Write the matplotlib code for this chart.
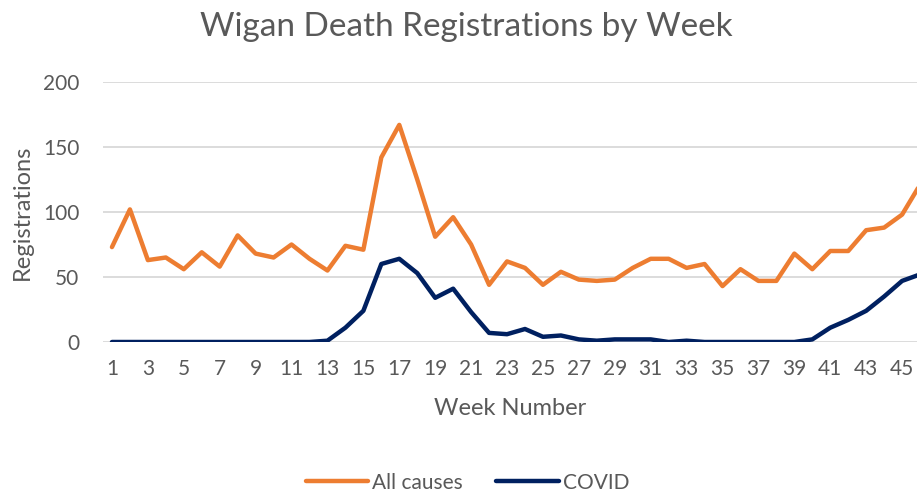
import matplotlib as mpl
mpl.use('Agg')
import matplotlib.pyplot as plt

weeks = list(range(1, 47))
all_causes = [73, 102, 63, 65, 56, 69, 58, 82, 68, 65,
              75, 64, 55, 74, 71, 142, 167, 125, 81, 96,
              75, 44, 62, 57, 44, 54, 48, 47, 48, 57,
              64, 64, 57, 60, 43, 56, 47, 47, 68, 56,
              70, 70, 86, 88, 98, 121]
covid = [0, 0, 0, 0, 0, 0, 0, 0, 0, 0,
         0, 0, 1, 11, 24, 60, 64, 53, 34, 41,
         23, 7, 6, 10, 4, 5, 2, 1, 2, 2,
         2, 0, 1, 0, 0, 0, 0, 0, 0, 2,
         11, 17, 24, 35, 47, 52]
tick_weeks = list(range(1, 46, 2))

plt.rcParams['font.family'] = ['Lato', 'DejaVu Sans']
grey = '#595959'

fig = plt.figure(figsize=(9.17, 4.94), dpi=100)
ax = fig.add_axes([0.1123, 0.3077, 0.8877, 0.5263])

ax.plot(weeks, all_causes, color='#ED7D31', lw=3.2, label='All causes',
        solid_capstyle='round', solid_joinstyle='round', zorder=3)
ax.plot(weeks, covid, color='#002060', lw=3.2, label='COVID',
        solid_capstyle='round', solid_joinstyle='round', zorder=3)

ax.set_xlim(0.5, 45.83)
ax.set_ylim(0, 200)
ax.set_yticks([0, 50, 100, 150, 200])
ax.set_xticks(tick_weeks)
ax.tick_params(length=0, labelsize=15, labelcolor=grey)
ax.tick_params(axis='x', pad=12)
ax.tick_params(axis='y', pad=17)
ax.grid(axis='y', color='#d9d9d9', lw=1.3, zorder=0)
for s in ['top', 'right', 'left', 'bottom']:
    ax.spines[s].set_visible(False)
ax.set_axisbelow(True)

ax.set_xlabel('Week Number', fontsize=17, color=grey, labelpad=14)
ax.set_ylabel('Registrations', fontsize=17, color=grey, labelpad=7)
fig.text(0.508, 0.945, 'Wigan Death Registrations by Week', ha='center', va='center',
         fontsize=24, color=grey)

fig.legend(loc='center', bbox_to_anchor=(0.51, 0.023), ncol=2, frameon=False,
           fontsize=15, labelcolor=grey, handlelength=3, handletextpad=0.2,
           columnspacing=1.6)

fig.savefig('out.png', dpi=100)
